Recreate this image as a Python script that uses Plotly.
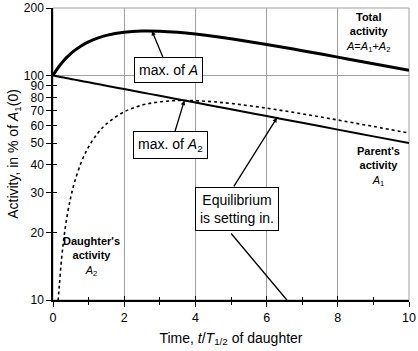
import plotly.graph_objects as go
import math

# time in units of daughter half-life
t = [0, 0.1, 0.2, 0.3, 0.4, 0.5, 0.6, 0.8, 1.0, 1.25, 1.5, 2, 2.5, 3, 3.5, 4, 4.5, 5, 6, 7, 8, 9, 10]
# parent activity A1 (% of A1(0))
a1 = [100, 99.31, 98.62, 97.94, 97.27, 96.59, 95.93, 94.61, 93.30, 91.70, 90.13, 87.06, 84.09,
      81.23, 78.46, 75.79, 73.20, 70.71, 65.98, 61.56, 57.43, 53.59, 50.0]
# daughter activity A2
a2 = [0.0, 6.67, 12.85, 18.57, 23.87, 28.76, 33.28, 41.30, 48.11, 55.17, 60.86, 68.95, 73.79,
      76.36, 77.36, 77.26, 76.43, 75.10, 71.57, 67.53, 63.38, 59.33, 55.45]
# total activity A = A1 + A2
a_tot = [100, 105.98, 111.48, 116.51, 121.13, 125.35, 129.21, 135.91, 141.42, 146.87, 150.98,
         156.00, 157.88, 157.59, 155.82, 153.05, 149.63, 145.81, 137.55, 129.09, 120.82, 112.91, 105.45]

x_ticks = [0, 2, 4, 6, 8, 10]
x_minor = [1, 3, 5, 7, 9]
y_ticks = [10, 20, 30, 40, 50, 60, 70, 80, 90, 100, 200]

FONT = "Liberation Sans, Arial, sans-serif"

fig = go.Figure()
fig.add_trace(go.Scatter(x=t, y=a2, mode="lines", line=dict(color="black", width=1.6, dash="dot", shape="spline"), showlegend=False))
fig.add_trace(go.Scatter(x=t, y=a1, mode="lines", line=dict(color="black", width=2, shape="spline"), showlegend=False))
fig.add_trace(go.Scatter(x=t, y=a_tot, mode="lines", line=dict(color="black", width=3, shape="spline"), showlegend=False))
# helper (empty) traces for overlay axes
fig.add_trace(go.Scatter(x=[], y=[], xaxis="x2", yaxis="y2", showlegend=False))
fig.add_trace(go.Scatter(x=[], y=[], xaxis="x", yaxis="y3", showlegend=False))

ylog = [1, math.log10(200)]

fig.update_layout(
    width=418, height=351,
    margin=dict(l=53, r=9, t=8, b=51, autoexpand=False),
    paper_bgcolor="white", plot_bgcolor="white", showlegend=False,
    font=dict(family=FONT, size=12, color="black"),
    xaxis=dict(range=[0, 10], tickvals=x_ticks, ticks="outside", ticklen=5, tickwidth=1.2, tickcolor="black",
               minor=dict(tickvals=x_minor, ticks="outside", ticklen=3, tickwidth=1.2, tickcolor="black", showgrid=False),
               showgrid=True, gridcolor="#a0a0a0", gridwidth=1, zeroline=False,
               showline=True, linecolor="black", linewidth=1.5, automargin=False, ticklabeloverflow="allow",
               tickfont=dict(size=12.5),
               title=dict(text="Time, <i>t</i>/<i>T</i><sub>1/2</sub> of daughter", font=dict(size=14), standoff=9)),
    xaxis2=dict(range=[0, 10], overlaying="x", tickvals=x_ticks, ticks="inside", ticklen=4, tickwidth=1.2, tickcolor="black",
                minor=dict(tickvals=x_minor, ticks="inside", ticklen=3, tickwidth=1.2, tickcolor="black", showgrid=False),
                showticklabels=False, showgrid=False, zeroline=False, showline=False, anchor="y2", side="bottom",
                automargin=False),
    yaxis=dict(type="log", range=ylog, tickvals=y_ticks, ticktext=[str(v) for v in y_ticks],
               ticks="outside", ticklen=5, tickwidth=1.2, tickcolor="black",
               showgrid=False, zeroline=False, showline=True, linecolor="black", linewidth=1.5,
               automargin=False, ticklabeloverflow="allow",
               tickfont=dict(size=12),
               title=dict(text="Activity, in % of <i>A</i><sub>1</sub>(0)", font=dict(size=14), standoff=2)),
    yaxis2=dict(type="log", range=ylog, overlaying="y", tickvals=y_ticks, ticks="inside", ticklen=4, tickwidth=1.2,
                tickcolor="black", showticklabels=False, showgrid=False, zeroline=False, showline=False, anchor="x2",
                side="left", automargin=False),
    yaxis3=dict(type="log", range=ylog, overlaying="y", tickvals=[100], ticks="", showticklabels=False,
                showgrid=True, gridcolor="#a0a0a0", gridwidth=1, zeroline=False, showline=False, anchor="x",
                side="left", automargin=False),
    shapes=[dict(type="rect", xref="paper", yref="paper", x0=0, x1=1, y0=0, y1=1,
                 line=dict(color="#a0a0a0", width=1), layer="below")],
)

box = dict(bordercolor="black", borderwidth=1, bgcolor="white", borderpad=4,
           font=dict(size=14, family=FONT), showarrow=True, arrowhead=2, arrowsize=0.7,
           arrowwidth=1.3, arrowcolor="black", xref="x", yref="y")
ann = [
    dict(box, x=2.78, y=math.log10(158), text="max. of <i>A</i>", ax=16.5, ay=39.5),
    dict(box, x=3.69, y=math.log10(77.4), text="max. of <i>A</i><sub>2</sub>", ax=-13.5, ay=44.5),
    dict(box, x=5.16, y=1.4055, text="Equilibrium<br>is setting in.", showarrow=False),
    dict(x=6.29, y=math.log10(64.8), xref="x", yref="y", text="", showarrow=True, arrowhead=2, arrowsize=0.7,
         arrowwidth=1.3, arrowcolor="black", ax=-44, ay=70, standoff=0, startstandoff=0),
    dict(x=6.57, y=1, xref="x", yref="y", text="", showarrow=True, arrowhead=0,
         arrowwidth=1.3, arrowcolor="black", ax=-57, ay=-68, standoff=0, startstandoff=0),
]
lbl = dict(xref="x", yref="y", showarrow=False, font=dict(size=11, family=FONT), align="center")
ann += [
    dict(lbl, x=8.85, y=2.19, text="<b>Total<br>activity</b><br><i>A</i>=<i>A</i><sub>1</sub>+<i>A</i><sub>2</sub>"),
    dict(lbl, x=9.13, y=1.594, text="<b>Parent's<br>activity</b><br><i>A</i><sub>1</sub>"),
    dict(lbl, x=1.09, y=1.194, text="<b>Daughter's<br>activity</b><br><i>A</i><sub>2</sub>"),
]
fig.update_layout(annotations=ann)

fig.write_html("out.html", config={"displayModeBar": False},
               post_script="document.body.style.margin='0';document.body.style.padding='0';")
